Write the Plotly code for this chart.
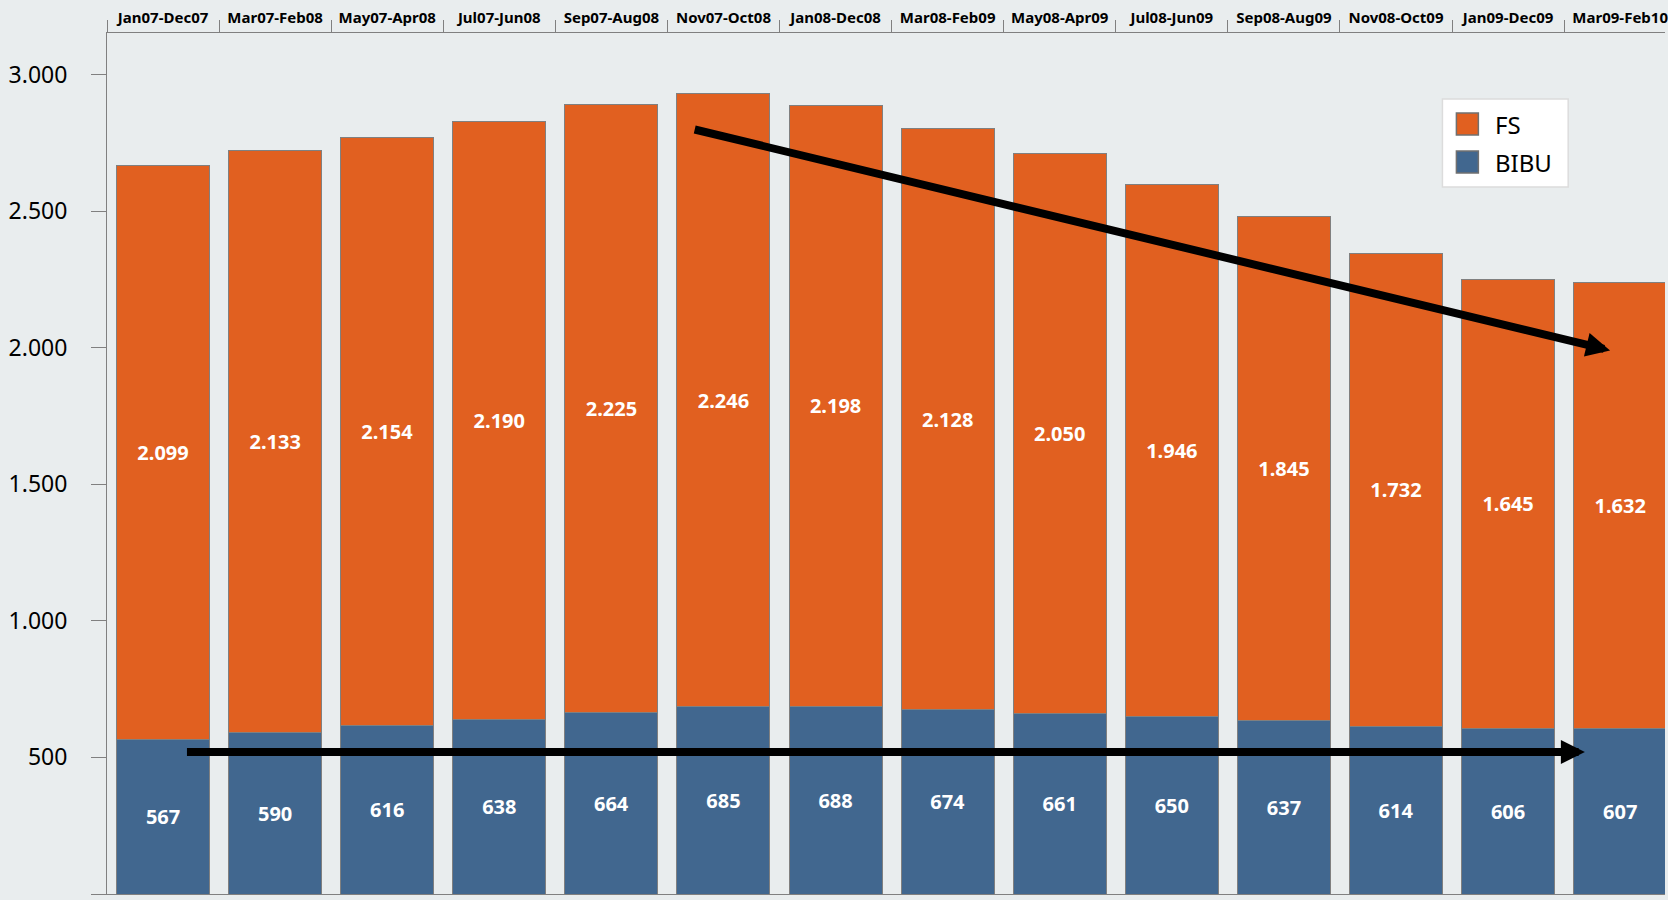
import plotly.graph_objects as go

# Rolling 12-month periods
periods = ["Jan07-Dec07", "Mar07-Feb08", "May07-Apr08", "Jul07-Jun08",
           "Sep07-Aug08", "Nov07-Oct08", "Jan08-Dec08", "Mar08-Feb09",
           "May08-Apr09", "Jul08-Jun09", "Sep08-Aug09", "Nov08-Oct09",
           "Jan09-Dec09", "Mar09-Feb10"]

# Stacked series values
bibu = [567, 590, 616, 638, 664, 685, 688, 674, 661, 650, 637, 614, 606, 607]
fs = [2099, 2133, 2154, 2190, 2225, 2246, 2198, 2128, 2050, 1946, 1845, 1732, 1645, 1632]

y_ticks = [0, 500, 1000, 1500, 2000, 2500, 3000]

# Trend arrows (tail -> head) in category index / value units
fs_trend = ((4.73, 2800), (12.91, 1990))
bibu_trend = ((0.20, 520), (12.685, 520))

ORANGE = "#E16020"
BLUE = "#41678F"
BG = "#E9EDEE"
GREY = "#808080"
FONT = "Noto Sans"

W, H = 1668, 900
M = dict(l=107, r=0, t=33, b=6)

fig = go.Figure()

for name, vals, color in [("BIBU", bibu, BLUE), ("FS", fs, ORANGE)]:
    fig.add_trace(go.Bar(
        x=periods, y=vals, name=name,
        marker=dict(color=color, line=dict(color=GREY, width=1)),
        width=0.83,
        texttemplate="%{y:,.0f}",
        textposition="inside",
        insidetextanchor="middle",
        textangle=0,
        constraintext="none",
        textfont=dict(family=FONT, size=20, color="white", weight="bold"),
        showlegend=False,
    ))

# trend arrows
for (tx, ty), (hx, hy) in (fs_trend, bibu_trend):
    fig.add_annotation(
        x=hx, y=hy, ax=tx, ay=ty, xref="x", yref="y", axref="x", ayref="y",
        text="", showarrow=True, arrowhead=2, arrowsize=0.6, arrowwidth=8,
        arrowcolor="black", standoff=0, startstandoff=0,
    )

# legend box
pw = W - M["l"] - M["r"]
ph = H - M["t"] - M["b"]


def px_x(v):
    return (v - M["l"]) / pw


def px_y(v):
    return (H - M["b"] - v) / ph


fig.add_shape(type="rect", xref="paper", yref="paper",
              x0=px_x(1445), x1=px_x(1571), y0=px_y(187), y1=px_y(99),
              fillcolor="white", line=dict(color="#DCDCDC", width=1.5))
for label, color, cy in [("FS", ORANGE, 124), ("BIBU", BLUE, 162)]:
    fig.add_shape(type="rect", xref="paper", yref="paper",
                  x0=px_x(1459), x1=px_x(1481), y0=px_y(cy + 11), y1=px_y(cy - 11),
                  fillcolor=color, line=dict(color="#707070", width=1.5))
    fig.add_annotation(xref="paper", yref="paper", x=px_x(1496), y=px_y(cy),
                       text=label, showarrow=False, xanchor="left", yanchor="middle",
                       font=dict(family=FONT, size=24, color="black"))

fig.update_layout(
    width=W, height=H, margin=M,
    barmode="stack",
    paper_bgcolor=BG, plot_bgcolor=BG,
    separators=",.",
    font=dict(family=FONT, color="black"),
    xaxis=dict(
        type="category", side="top", range=[-0.5, 13.4],
        showline=True, linecolor=GREY, linewidth=1, mirror=True,
        ticks="outside", tickson="boundaries", ticklen=12, tickcolor=GREY,
        ticklabelstandoff=3,
        tickfont=dict(family=FONT, size=15, color="black", weight="bold"),
        showgrid=False, zeroline=False,
    ),
    yaxis=dict(
        range=[0, 3152], tickvals=y_ticks, tickformat=",d",
        showline=True, linecolor=GREY, linewidth=1,
        ticks="outside", ticklen=15, tickcolor=GREY,
        ticklabelstandoff=19,
        tickfont=dict(family=FONT, size=23, color="black"),
        showgrid=False, zeroline=False,
    ),
)

fig.write_html("out.html")
